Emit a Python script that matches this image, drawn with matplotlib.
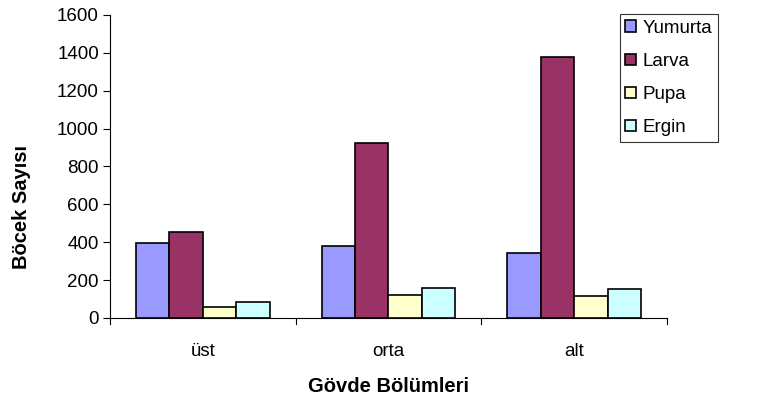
import matplotlib
matplotlib.use("Agg")
import matplotlib.pyplot as plt
import numpy as np

plt.rcParams['font.family'] = ['Liberation Sans', 'DejaVu Sans']

# body sections and insect counts per life stage
sections = ["üst", "orta", "alt"]
stages = ["Yumurta", "Larva", "Pupa", "Ergin"]
yumurta = [396, 380, 345]
larva = [454, 924, 1380]
pupa = [58, 121, 116]
ergin = [84, 158, 151]
yticks = [0, 200, 400, 600, 800, 1000, 1200, 1400, 1600]

colors = ["#9999FF", "#993366", "#FFFFCC", "#CCFFFF"]
series = [yumurta, larva, pupa, ergin]

fig = plt.figure(figsize=(7.65, 4.03), dpi=100)
ax = fig.add_axes([0.1438, 0.211, 0.728, 0.752])

x = np.arange(len(sections))
w = 0.18
for k, (vals, c, name) in enumerate(zip(series, colors, stages)):
    ax.bar(x + (k - 1.5) * w, vals, width=w, color=c, edgecolor="black",
           linewidth=1.2, label=name, zorder=3)

ax.set_xlim(-0.5, 2.5)
ax.set_ylim(0, 1600)
ax.set_yticks(yticks)
ax.set_yticklabels([str(v) for v in yticks], fontsize=13.5)
ax.set_xticks(x)
ax.set_xticklabels(sections, fontsize=13.5)
ax.tick_params(axis="x", length=0, pad=18)
ax.tick_params(axis="y", length=5, width=0.8, pad=3)

# category boundary ticks on the x axis
for b in [-0.5, 0.5, 1.5, 2.5]:
    ax.plot([b, b], [0, -0.02], transform=ax.get_xaxis_transform(),
            color="black", linewidth=0.8, clip_on=False)

for s in ["top", "right"]:
    ax.spines[s].set_visible(False)
ax.spines["left"].set_linewidth(0.8)
ax.spines["bottom"].set_linewidth(0.8)

ax.set_ylabel("Böcek Sayısı", fontsize=14.5, fontweight="bold")
ax.yaxis.set_label_coords(-0.142, 0.366)
ax.set_xlabel("Gövde Bölümleri", fontsize=14.5, fontweight="bold", labelpad=12)

leg = fig.legend(loc="upper left", bbox_to_anchor=(0.810, 0.965), fontsize=13.5,
                 frameon=True, fancybox=False, edgecolor="black",
                 handlelength=0.55, handleheight=0.55, handletextpad=0.35,
                 labelspacing=0.86, borderpad=0.3, borderaxespad=0)
leg.get_frame().set_linewidth(0.8)

fig.savefig("out.png", dpi=100)
